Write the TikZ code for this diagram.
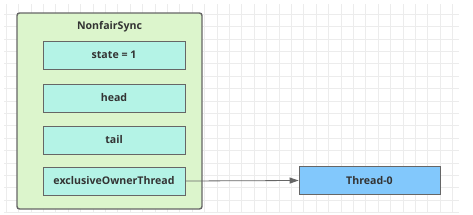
\documentclass[tikz,border=0pt]{standalone}
\usepackage{fontspec}
\setmainfont{Open Sans}
\usetikzlibrary{arrows.meta}
\definecolor{outerfill}{HTML}{DCF5CC}
\definecolor{innerfill}{HTML}{B4F3E6}
\definecolor{threadfill}{HTML}{82C8FC}
\definecolor{bordergray}{HTML}{666666}
\definecolor{gridgray}{HTML}{ECECEC}
\definecolor{textgray}{HTML}{333333}
\tikzset{
  outerbox/.style={draw=bordergray, line width=1.4pt, fill=outerfill, rounded corners=2.5pt},
  labelfont/.style={font=\fontsize{10.6}{12}\selectfont\bfseries, text=textgray},
  field/.style={draw=bordergray, line width=0.8pt, fill=innerfill, minimum width=142pt, minimum height=28pt, inner sep=0pt, labelfont},
  threadbox/.style={draw=bordergray, line width=0.8pt, fill=threadfill, minimum width=141pt, minimum height=28pt, inner sep=0pt, labelfont},
  conn/.style={draw=bordergray, line width=0.8pt, -{Triangle[length=9pt,width=6pt]}},
  gridline/.style={draw=gridgray, line width=0.6pt},
}
\begin{document}
\begin{tikzpicture}[x=1pt,y=-1pt]
\useasboundingbox (0,0) rectangle (473,214);
\fill[white] (0,0) rectangle (473,214);
\foreach \i in {0,...,36} {\draw[gridline] ({6+12.4*\i},4) -- ({6+12.4*\i},212);}
\foreach \j in {0,...,16} {\draw[gridline] (4,{14+12.4*\j}) -- (459,{14+12.4*\j});}
\draw[outerbox] (17,13) rectangle (202,209);
\node[labelfont] (title) at (109.5,27) {NonfairSync};
\node[field] (state) at (114,55) {state = 1};
\node[field] (head) at (114,98) {head};
\node[field] (tail) at (114,140) {tail};
\node[field] (owner) at (114,181) {exclusiveOwnerThread};
\node[threadbox] (thread) at (369.5,180.5) {Thread-0};
\draw[conn] (owner.east) -- (thread.west);
\end{tikzpicture}
\end{document}
